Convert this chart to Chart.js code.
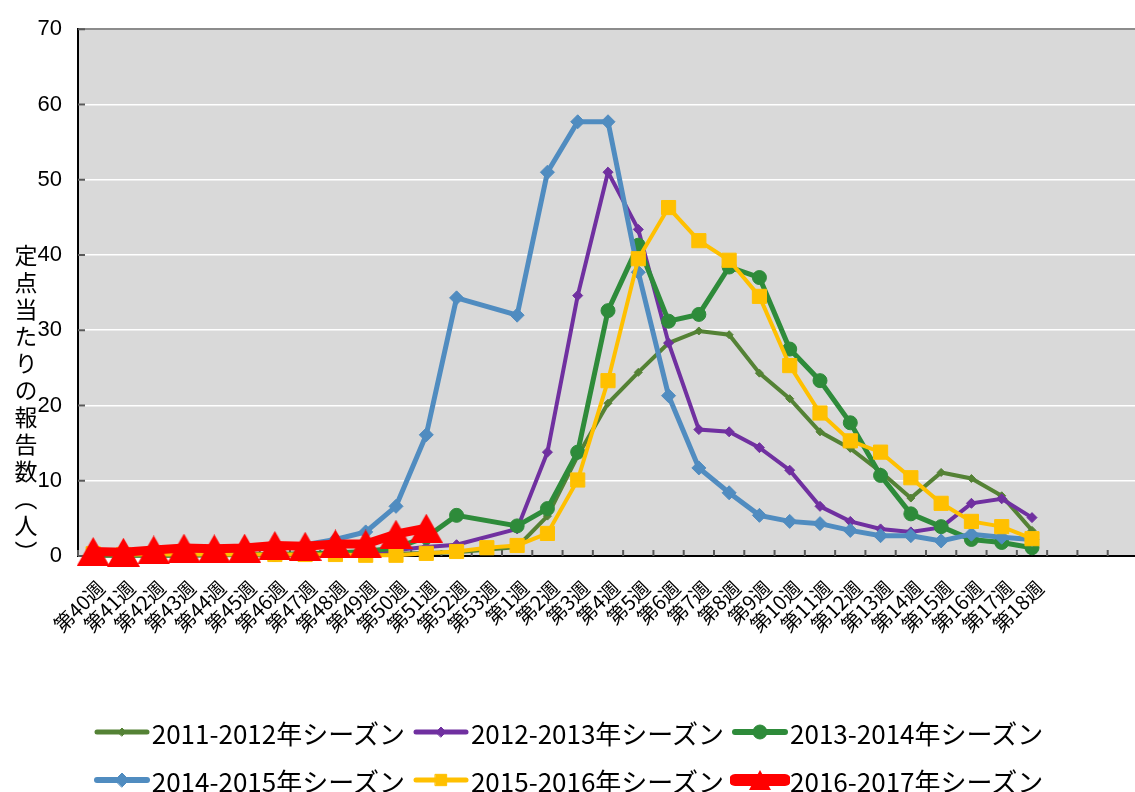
<!DOCTYPE html>
<html lang="ja">
<head>
<meta charset="utf-8">
<title>定点当たりの報告数</title>
<script src="https://cdn.jsdelivr.net/npm/chart.js@4.4.1/dist/chart.umd.min.js"></script>
<style>
  html, body { margin: 0; padding: 0; background: #fff; overflow: hidden; }
  #wrap { position: relative; width: 1135px; height: 792px; overflow: hidden; }
  #c { position: absolute; left: 0; top: 0; }
  #yTitle {
    position: absolute; left: 9px; top: 244px;
    writing-mode: vertical-rl; letter-spacing: 4px;
    font: 23px "Noto Sans CJK JP"; color: #000;
  }
  #legend { position: absolute; left: 0; top: 708px; width: 1135px; font: 26px "Noto Sans CJK JP"; color: #000; }
  .row { display: flex; justify-content: center; align-items: center; height: 48px; }
  .item { display: flex; align-items: center; margin: 0 3px; white-space: nowrap; }
</style>
</head>
<body>
<div id="wrap">
  <!-- 元の図はプロットの右端が切れているので、少し広いキャンバスにする -->
  <canvas id="c" width="1150" height="792"></canvas>
  <div id="yTitle">定点当たりの報告数（人）</div>
  <div id="legend"></div>
</div>
<script>
// 週ラベル（第18週の後に空のカテゴリが3つ）
const weeks = [
  '第40週','第41週','第42週','第43週','第44週','第45週','第46週','第47週',
  '第48週','第49週','第50週','第51週','第52週','第53週',
  '第1週','第2週','第3週','第4週','第5週','第6週','第7週','第8週','第9週',
  '第10週','第11週','第12週','第13週','第14週','第15週','第16週','第17週','第18週',
  '', '', ''
];

// 定点当たり報告数（第53週が無いシーズンは null）
const s2011 = [0.1,0.1,0.1,0.1,0.1,0.1,0.1,0.2,0.2,0.2,0.3,0.4,0.5,null,
  1.2,5.3,13.3,20.3,24.4,28.3,29.9,29.4,24.3,20.9,16.5,14.3,11.2,7.7,11.1,10.3,8.0,3.4];
const s2012 = [0.1,0.1,0.1,0.1,0.1,0.2,0.2,0.3,0.4,0.5,0.8,1.2,1.5,null,
  3.6,13.8,34.6,51.0,43.4,28.3,16.8,16.5,14.4,11.4,6.6,4.6,3.6,3.2,3.8,7.0,7.6,5.1];
const s2013 = [0.1,0.1,0.1,0.1,0.2,0.2,0.2,0.3,0.4,0.6,1.1,2.5,5.4,null,
  4.0,6.3,13.8,32.6,41.3,31.2,32.1,38.4,37.0,27.5,23.3,17.7,10.7,5.6,3.9,2.2,1.8,1.1];
const s2014 = [0.4,0.5,0.6,0.7,0.8,0.9,1.1,1.5,2.2,3.2,6.6,16.1,34.3,null,
  32.0,51.0,57.7,57.7,37.7,21.3,11.7,8.4,5.4,4.6,4.3,3.4,2.7,2.7,2.0,2.9,2.5,2.2];
const s2015 = [0.3,0.2,0.2,0.2,0.2,0.2,0.2,0.2,0.2,0.1,0.1,0.35,0.6,1.1,
  1.4,3.0,10.1,23.3,39.5,46.3,41.9,39.3,34.5,25.3,19.0,15.3,13.8,10.4,7.0,4.6,3.9,2.3];
const s2016 = [0.6,0.5,0.8,1.05,0.95,1.05,1.4,1.3,1.6,1.6,2.9,3.7];

// 大きな三角マーカー（外接矩形の中心が点に来るもの）
function makeTriangle(w, h, color) {
  const cv = document.createElement('canvas');
  cv.width = w; cv.height = h;
  const g = cv.getContext('2d');
  g.fillStyle = color;
  g.beginPath(); g.moveTo(w / 2, 0); g.lineTo(w, h); g.lineTo(0, h); g.closePath(); g.fill();
  return cv;
}

const seasons = [
  { label: '2011-2012年シーズン', data: s2011, color: '#548235', style: 'rectRot', r: 4, w: 4 },
  { label: '2012-2013年シーズン', data: s2012, color: '#7030a0', style: 'rectRot', r: 5, w: 4 },
  { label: '2013-2014年シーズン', data: s2013, color: '#2e8b3a', style: 'circle', r: 7, w: 5 },
  { label: '2014-2015年シーズン', data: s2014, color: '#508cc0', style: 'rectRot', r: 7, w: 5 },
  { label: '2015-2016年シーズン', data: s2015, color: '#ffc000', style: 'rect', r: 10, w: 4 },
  // 画像マーカーなので r は当たり判定用
  { label: '2016-2017年シーズン', data: s2016, color: '#ff0000', style: makeTriangle(33, 29, '#ff0000'), r: 4, w: 9 }
];

// プロットエリアの背景
const plotBg = {
  id: 'plotBg',
  beforeDraw(chart) {
    const { ctx, chartArea: a } = chart;
    ctx.save();
    ctx.fillStyle = '#d9d9d9';
    ctx.fillRect(a.left, a.top, a.right - a.left, a.bottom - a.top);
    ctx.restore();
  }
};

// 内向きの目盛り
const innerTicks = {
  id: 'innerTicks',
  beforeDatasetsDraw(chart) {
    const { ctx, chartArea: a, scales: { x, y } } = chart;
    const half = (x.getPixelForValue(1) - x.getPixelForValue(0)) / 2;
    ctx.save();
    ctx.strokeStyle = '#595959';
    ctx.lineWidth = 2;
    ctx.beginPath();
    for (let i = 0; i <= weeks.length; i++) {
      const px = x.getPixelForValue(i) - half;
      ctx.moveTo(px, a.bottom);
      ctx.lineTo(px, a.bottom - 6);
    }
    y.ticks.forEach(t => {
      const py = y.getPixelForValue(t.value);
      ctx.moveTo(a.left, py);
      ctx.lineTo(a.left + 7, py);
    });
    ctx.stroke();
    ctx.restore();
  }
};

new Chart(document.getElementById('c'), {
  type: 'line',
  data: {
    labels: weeks,
    datasets: seasons.map((s, i) => ({
      label: s.label,
      data: s.data,
      borderColor: s.color,
      backgroundColor: s.color,
      borderWidth: s.w,
      pointStyle: s.style,
      pointRadius: s.r,
      pointHoverRadius: s.r,
      pointBorderWidth: 1,
      spanGaps: true,
      tension: 0,
      clip: false,
      order: seasons.length - i
    }))
  },
  options: {
    responsive: false,
    animation: false,
    layout: { padding: { left: 0, right: 12, top: 22, bottom: 156 } },
    plugins: { legend: { display: false }, tooltip: { enabled: false } },
    scales: {
      x: {
        offset: true,
        grid: { display: false, drawTicks: false },
        border: { color: '#000', width: 2 },
        ticks: {
          autoSkip: false, minRotation: 45, maxRotation: 45,
          color: '#000', padding: 20, labelOffset: 8,
          font: { family: '"Noto Sans CJK JP"', size: 20 }
        },
        afterFit: s => { s.height = 80; s.paddingLeft = 0; s.paddingRight = 0; }
      },
      y: {
        min: 0, max: 70,
        ticks: { stepSize: 10, color: '#000', padding: 16, font: { family: '"Liberation Sans", Arial', size: 22 } },
        grid: {
          drawTicks: false,
          color: c => c.tick.value === 70 ? '#8c8c8c' : '#ffffff',
          lineWidth: c => c.tick.value === 70 ? 2 : 1.5
        },
        border: { color: '#000', width: 2 },
        afterFit: s => { s.width = 78; }
      }
    }
  },
  plugins: [plotBg, innerTicks]
});

// 凡例（2行×3項目）
const legend = document.getElementById('legend');
[seasons.slice(0, 3), seasons.slice(3)].forEach(group => {
  const row = document.createElement('div');
  row.className = 'row';
  group.forEach(s => {
    const item = document.createElement('div');
    item.className = 'item';
    const cv = document.createElement('canvas');
    cv.width = 60; cv.height = 30;
    const g = cv.getContext('2d');
    const isTri = typeof s.style !== 'string';
    g.strokeStyle = s.color;
    g.fillStyle = s.color;
    g.lineWidth = isTri ? 12 : s.w + 1;
    g.lineCap = 'round';
    g.beginPath(); g.moveTo(5, 15); g.lineTo(55, 15); g.stroke();
    if (isTri) {
      g.drawImage(makeTriangle(22, 20, s.color), 19, 5);
    } else {
      g.lineWidth = 1;
      Chart.helpers.drawPoint(g, { pointStyle: s.style, radius: Math.min(s.r, 8), rotation: 0, borderWidth: 1 }, 30, 15);
    }
    const txt = document.createElement('span');
    txt.textContent = s.label;
    item.appendChild(cv);
    item.appendChild(txt);
    row.appendChild(item);
  });
  legend.appendChild(row);
});
</script>
</body>
</html>
